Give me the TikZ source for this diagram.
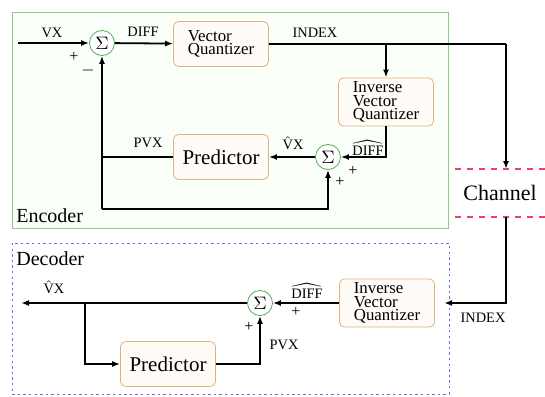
\documentclass[tikz,border=0pt]{standalone}
\usepackage{fontspec}
\setmainfont{Liberation Serif}
\usetikzlibrary{positioning,arrows.meta}
\definecolor{encC}{HTML}{8FC98F}
\definecolor{decC}{HTML}{6A6AD8}
\definecolor{chanC}{HTML}{E8435F}
\definecolor{blkC}{HTML}{E2B27A}
\definecolor{sumC}{HTML}{4FB04F}
\newcommand{\hatvx}{$\hat{\mbox{V}}$X}
\newcommand{\hatdiff}{$\widehat{\mbox{DIFF}}$}
\tikzset{
  blk/.style={draw=blkC, fill=orange!3, rounded corners=2.5pt, align=left,
              font=\fontsize{8.4}{6.6}\selectfont, minimum width=47.5pt,
              minimum height=22.5pt, inner sep=2pt},
  predblk/.style={blk, font=\fontsize{10.5}{12}\selectfont},
  sumc/.style={draw=sumC, fill=white, circle, minimum size=12.5pt, inner sep=0pt, font=\small},
  lbl/.style={font=\fontsize{7.2}{8}\selectfont, inner sep=0pt},
  sign/.style={font=\fontsize{8}{8}\selectfont, inner sep=0pt},
  tag/.style={font=\fontsize{10}{12}\selectfont, anchor=west, inner sep=0pt},
  wire/.style={line width=0.9pt},
  flow/.style={wire, -{Latex[length=4pt,width=3pt]}},
}

\begin{document}
\begin{tikzpicture}[x=0.5pt,y=-0.5pt]
\useasboundingbox (0,0) rectangle (545,396);
\draw[encC, fill=green!2] (12,12) rectangle (448,228);
\draw[decC, dash pattern=on 1.2pt off 1.6pt] (12,243) rectangle (449,394);
\node[tag] (enc) at (16,216) {Encoder};
\node[tag] (dec) at (16,259) {Decoder};

\node[sumc] (sa) at (102,43) {$\Sigma$};
\node[blk] (vq) at (221,44) {Vector\\Quantizer};
\node[blk] (ivq) at (386,102) {Inverse\\Vector\\Quantizer};
\node[sumc] (sb) at (328,157) {$\Sigma$};
\node[predblk] (pred) at (221,157) {Predictor};
\coordinate (vxin) at (18,43);
\coordinate (tap) at (386,44);
\coordinate (turn) at (506,44);
\coordinate (pj) at (102,157);
\coordinate (fbk) at (102,209);
\draw[flow] (vxin) -- (sa);
\draw[flow] (sa) -- (vq);
\draw[wire] (vq) -- (turn);
\draw[flow] (tap) -- (ivq);
\draw[flow] (ivq.south) |- (sb);
\draw[flow] (sb) -- (pred);
\draw[wire] (pred) -- (pj);
\draw[flow] (fbk) -- (sa);
\draw[flow] (fbk) -| (sb);
\node[lbl] (lvx) at (52,33) {VX};
\node[sign] (pa) at (74,57) {+};
\node[sign] (ma) at (88,70) {$-$};
\node[lbl] (ldiff) at (143,32) {DIFF};
\node[lbl] (lidx) at (315,33) {INDEX};
\node[lbl] (lhdiff) at (368,148) {\hatdiff};
\node[lbl] (lhvx) at (293,143) {\hatvx};
\node[lbl] (lpvx) at (148,143) {PVX};
\node[sign] (pb) at (353,171) {+};
\node[sign] (pc) at (340,182) {+};

\coordinate (chtop) at (506,169);
\coordinate (chbot) at (506,217);
\draw[chanC, dashed, line width=0.8pt] (455,169) -- (545,169);
\draw[chanC, dashed, line width=0.8pt] (455,217) -- (545,217);
\node[font=\fontsize{11}{13}\selectfont] (chan) at (500,193) {Channel};
\draw[flow] (turn) -- (chtop);

\node[blk] (divq) at (387,303) {Inverse\\Vector\\Quantizer};
\node[sumc] (sc) at (260,303) {$\Sigma$};
\node[predblk] (dpred) at (168,364) {Predictor};
\coordinate (din) at (444,303);
\coordinate (vxout) at (21,303);
\coordinate (dtap) at (85,303);
\draw[flow] (chbot) |- (din);
\draw[flow] (divq) -- (sc);
\draw[flow] (sc) -- (vxout);
\draw[flow] (dtap) |- (dpred);
\draw[flow] (dpred) -| (sc);
\node[lbl] (dhvx) at (54,287) {\hatvx};
\node[lbl] (dhdiff) at (307,291) {\hatdiff};
\node[sign] (pd) at (296,312) {+};
\node[sign] (pe) at (249,327) {+};
\node[lbl] (dpvx) at (284,345) {PVX};
\node[lbl] (didx) at (483,318) {INDEX};
\end{tikzpicture}
\end{document}
